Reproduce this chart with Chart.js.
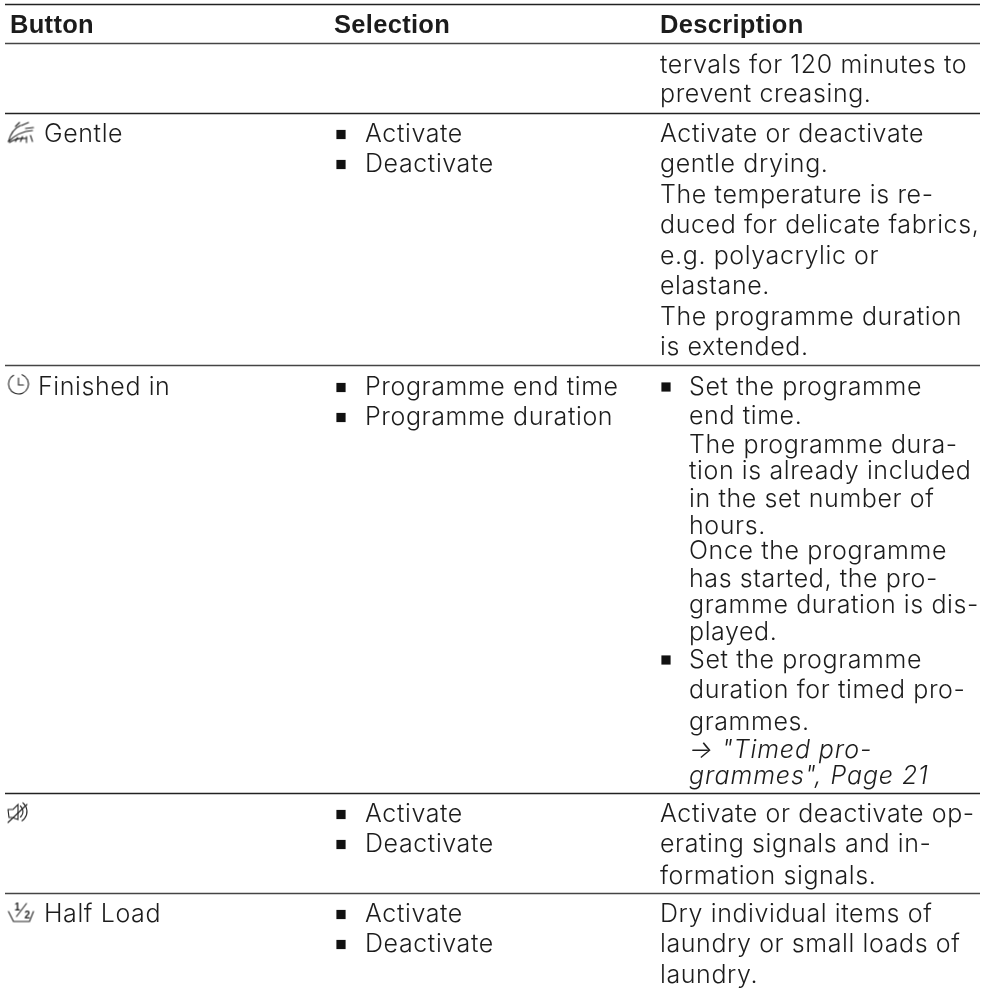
<!DOCTYPE html>
<html>
<head>
<meta charset="utf-8">
<style>html,body{margin:0;padding:0;background:#fff}canvas{display:block}</style>
<script src="https://cdn.jsdelivr.net/npm/chart.js@4"></script>
</head>
<body>
<canvas id="myChart" width="992" height="991"></canvas>
<script>
var columnHeads = ["Button", "Selection", "Description"];
var columnHeadX = [10, 334, 660];
var headBaseline = 33;

var ruleY = [4.5, 43.5, 113.5, 365.5, 793.5, 893.5];
var ruleX = [5, 980];

var buttonLabels = ["Gentle", "Finished in", "Half Load"];
var buttonX = [44, 38, 44];
var buttonY = [142, 395, 922];

var selectionLabels = ["Activate", "Deactivate", "Programme end time", "Programme duration", "Activate", "Deactivate", "Activate", "Deactivate"];
var selectionY = [142, 172, 395, 425, 822, 852, 922, 952];

var descriptionLines = ["tervals for 120 minutes to", "prevent creasing.",
  "Activate or deactivate", "gentle drying.", "The temperature is re-", "duced for delicate fabrics,", "e.g. polyacrylic or", "elastane.", "The programme duration", "is extended.",
  "Activate or deactivate op-", "erating signals and in-", "formation signals.",
  "Dry individual items of", "laundry or small loads of", "laundry."];
var descriptionY = [73, 102, 142, 172, 203, 233, 264, 294, 325, 355, 822, 852, 884, 922, 952, 983];

var bulletedLines = ["Set the programme", "end time.", "The programme dura-", "tion is already included", "in the set number of", "hours.", "Once the programme", "has started, the pro-", "gramme duration is dis-", "played.", "Set the programme", "duration for timed pro-", "grammes."];
var bulletedY = [395, 424, 453, 479, 507, 534, 559, 587, 613, 640, 668, 698, 730];
var linkLines = ["\u2192 \"Timed pro-", "grammes\", Page 21"];
var linkY = [758, 784];

var selectionBulletX = 341, selectionTextX = 365, descriptionX = 660, bulletedBulletX = 666, bulletedTextX = 689;
var bulletedBulletY = [387, 660];

var iconKinds = ["gentle", "clock", "mute", "half"];
var iconX = [21.5, 18.5, 18, 21.5];
var iconY = [132.5, 384, 812.5, 912.5];

var textFont = '300 25px Inter, "Liberation Sans", sans-serif';
var textSpacing = '0.6px';
var headFont = 'bold 25.5px "Liberation Sans", Arial, sans-serif';
var inkColor = '#1c1c1c';

function pts(xs, ys) {
  return ys.map(function (y, i) { return {x: Array.isArray(xs) ? xs[i] : xs, y: y}; });
}

function textSet(xs, ys, labels, font, spacing) {
  return {
    type: 'scatter', data: pts(xs, ys), pointRadius: 0, showLine: false,
    textLabels: labels, textFont: font, textSpacing: spacing || textSpacing
  };
}

function makeIcon(kind) {
  var c = document.createElement('canvas');
  c.width = 30; c.height = 30;
  var g = c.getContext('2d');
  g.strokeStyle = '#222'; g.fillStyle = '#222'; g.lineWidth = 1.1; g.lineCap = 'round';
  function line(a) {
    g.beginPath(); g.moveTo(a[0], a[1]);
    for (var i = 2; i < a.length; i += 2) g.lineTo(a[i], a[i + 1]);
    g.stroke();
  }
  if (kind === 'clock') {
    g.beginPath(); g.arc(15, 15, 10, -1.2, 4.2); g.stroke();
    line([15, 9, 15, 16, 20, 16]);
  } else if (kind === 'gentle') {
    g.beginPath(); g.moveTo(2, 24); g.quadraticCurveTo(5, 12, 14, 8); g.stroke();
    g.beginPath(); g.moveTo(2, 24); g.quadraticCurveTo(12, 14, 26, 13); g.stroke();
    g.beginPath(); g.moveTo(3, 25); g.quadraticCurveTo(10, 20, 20, 21); g.stroke();
    line([9, 9, 13, 5]); line([15, 8, 22, 5]); line([19, 11, 27, 10]);
    line([9, 24, 11, 20]); line([14, 24, 16, 19]); line([20, 25, 20, 19]); line([26, 24, 24, 18]);
  } else if (kind === 'mute') {
    line([5, 12, 10, 12, 15, 7, 15, 22, 9, 20, 6, 20, 5, 12]);
    line([5, 25, 24, 7]);
    g.beginPath(); g.arc(13, 14, 7, -0.9, 0.9); g.stroke();
    g.beginPath(); g.arc(13, 14, 11, -0.9, 1.0); g.stroke();
  } else {
    line([2, 14, 7, 24, 23, 24, 27, 14]);
    line([10, 19, 20, 6]);
    g.font = 'bold 10px "Liberation Sans"';
    g.fillText('1', 8, 13); g.fillText('2', 18, 21);
  }
  return c;
}

var datasets = [];
ruleY.forEach(function (y, i) {
  datasets.push({
    type: 'line', data: pts(ruleX, [y, y]), pointRadius: 0,
    borderColor: i % 2 ? '#444' : '#222', borderWidth: 1.6, fill: false, tension: 0
  });
});
datasets.push({
  type: 'scatter',
  data: pts(selectionBulletX, selectionY.map(function (y) { return y - 7.5; })).concat(pts(bulletedBulletX, bulletedBulletY)),
  pointStyle: 'rect', pointRadius: 6.5, backgroundColor: '#111', borderWidth: 0
});
iconKinds.forEach(function (kind, i) {
  datasets.push({
    type: 'scatter', data: [{x: iconX[i], y: iconY[i]}],
    pointStyle: makeIcon(kind), pointRadius: 15
  });
});
datasets.push(textSet(columnHeadX, columnHeads.map(function () { return headBaseline; }), columnHeads, headFont, '0.3px'));
datasets.push(textSet(buttonX, buttonY, buttonLabels, textFont));
datasets.push(textSet(selectionTextX, selectionY, selectionLabels, textFont));
datasets.push(textSet(descriptionX, descriptionY, descriptionLines, textFont));
datasets.push(textSet(bulletedTextX, bulletedY, bulletedLines, textFont));
datasets.push(textSet(bulletedTextX, linkY, linkLines, 'italic ' + textFont, '0.9px'));

var textPlugin = {
  id: 'tableText',
  afterDatasetsDraw: function (chart) {
    var ctx = chart.ctx;
    chart.data.datasets.forEach(function (dataset, i) {
      if (!dataset.textLabels) return;
      var meta = chart.getDatasetMeta(i);
      meta.data.forEach(function (element, index) {
        ctx.fillStyle = inkColor;
        ctx.font = dataset.textFont;
        ctx.letterSpacing = dataset.textSpacing;
        ctx.textAlign = 'left';
        ctx.textBaseline = 'alphabetic';
        ctx.fillText(dataset.textLabels[index], element.x, element.y);
      });
    });
  }
};

var chart = new Chart(document.getElementById('myChart').getContext('2d'), {
  type: 'scatter',
  data: {datasets: datasets},
  options: {
    responsive: false,
    animation: false,
    layout: {padding: 0, autoPadding: false},
    plugins: {legend: {display: false}, title: {display: false}, tooltip: {enabled: false}},
    scales: {
      x: {type: 'linear', min: 0, max: 992, display: false},
      y: {type: 'linear', min: 0, max: 991, reverse: true, display: false}
    }
  },
  plugins: [textPlugin]
});
</script>
</body>
</html>
